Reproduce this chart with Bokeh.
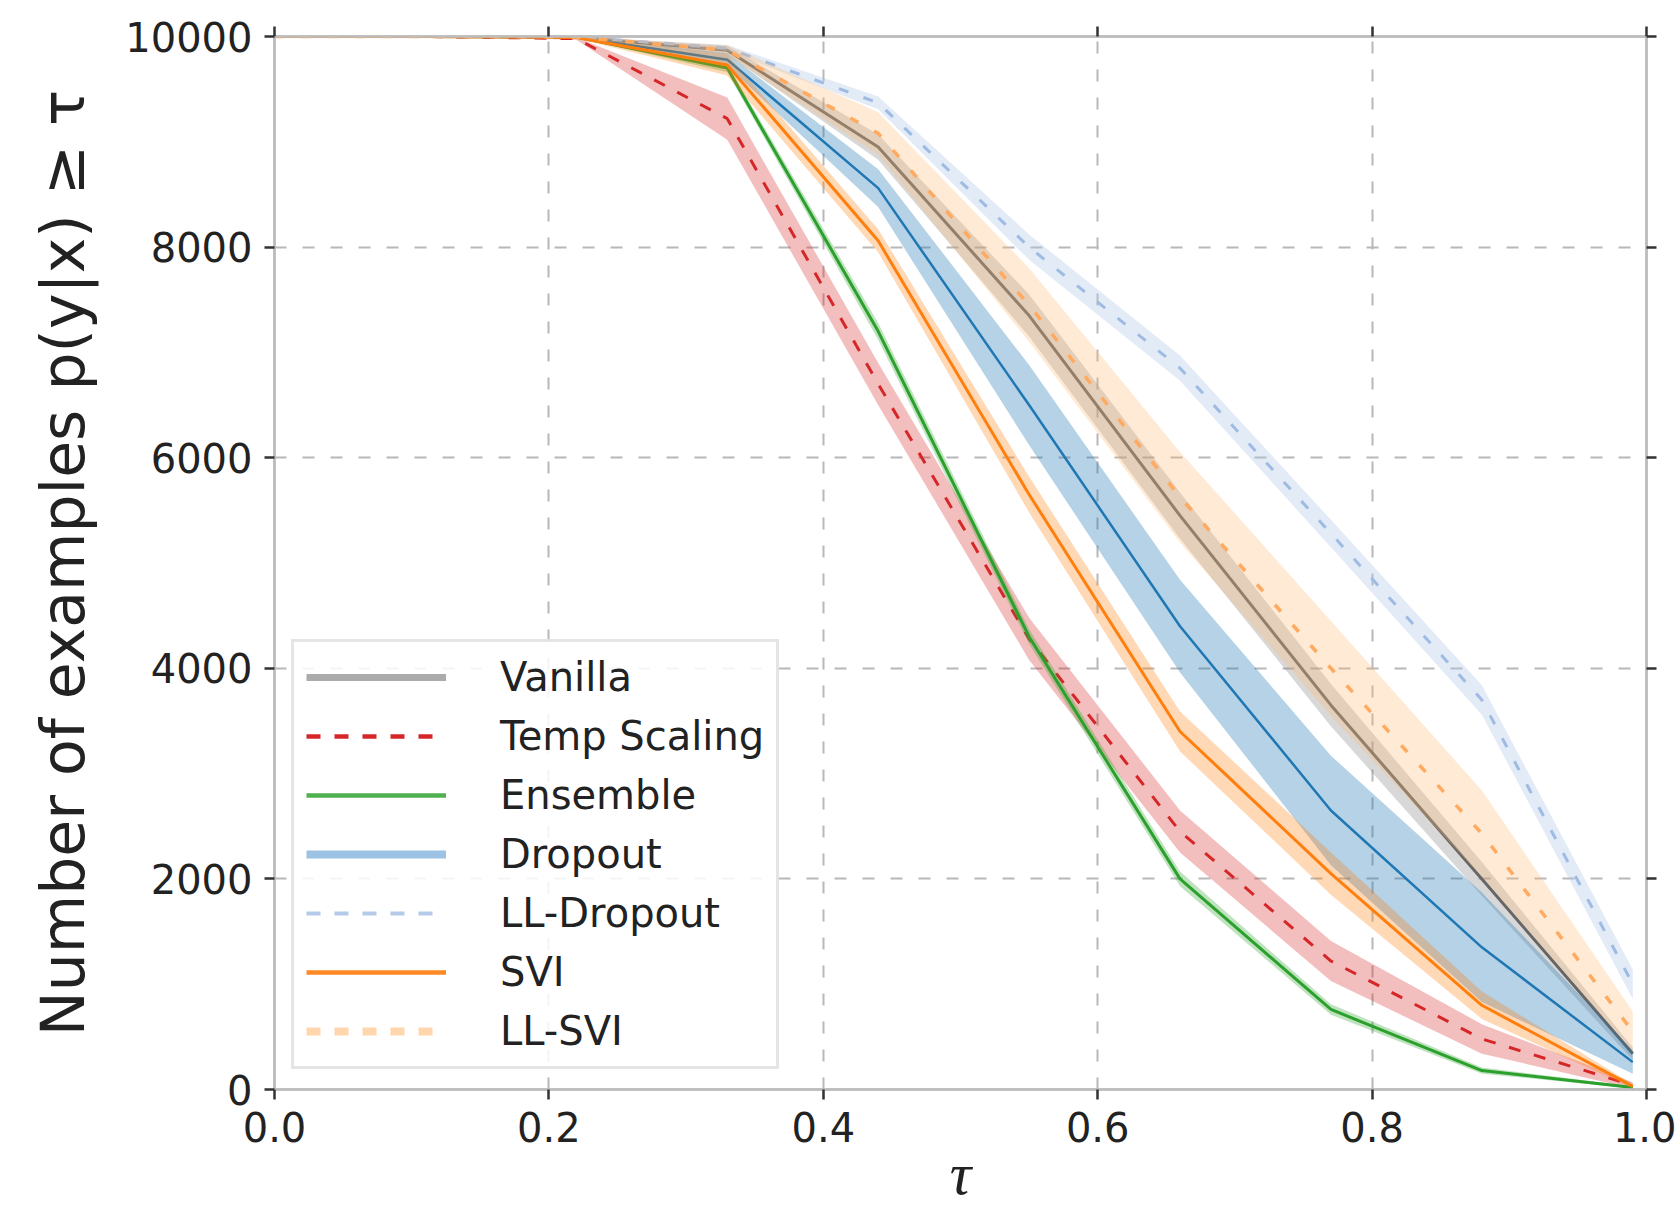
import math
from bokeh.plotting import figure
from bokeh.models import (Range1d, FixedTicker, LinearAxis, Legend, LegendItem,
                          CustomJSTickFormatter)
from bokeh.embed import file_html
from bokeh.resources import INLINE

# ---------------- data ----------------
tau = [0.0, 0.11, 0.22, 0.33, 0.44, 0.55, 0.66, 0.77, 0.88, 0.99]

methods = ["Vanilla", "Temp Scaling", "Ensemble", "Dropout", "LL-Dropout", "SVI", "LL-SVI"]

vanilla_mean = [10000, 10000, 9995, 9870, 8950, 7350, 5450, 3650, 2000, 340]
vanilla_std = [0, 0, 5, 40, 120, 200, 220, 200, 160, 60]

temp_mean = [10000, 10000, 9980, 9220, 6700, 4280, 2450, 1220, 480, 40]
temp_std = [0, 0, 10, 200, 200, 200, 200, 190, 140, 30]

ensemble_mean = [10000, 10000, 9995, 9700, 7200, 4300, 2000, 760, 180, 20]
ensemble_std = [0, 0, 5, 40, 80, 70, 70, 50, 30, 10]

dropout_mean = [10000, 10000, 9995, 9780, 8560, 6500, 4400, 2650, 1350, 260]
dropout_std = [0, 0, 5, 60, 180, 380, 440, 520, 520, 110]

lldropout_mean = [10000, 10000, 9998, 9890, 9370, 8000, 6850, 5280, 3700, 1000]
lldropout_std = [0, 0, 2, 30, 60, 120, 120, 130, 140, 140]

svi_mean = [10000, 10000, 9990, 9730, 8060, 5650, 3400, 2050, 800, 30]
svi_std = [0, 0, 10, 100, 110, 170, 190, 200, 130, 20]

llsvi_mean = [10000, 10000, 9995, 9870, 9080, 7450, 5625, 4000, 2430, 550]
llsvi_std = [0, 0, 5, 50, 200, 350, 430, 450, 410, 190]

x_ticks = [0.0, 0.2, 0.4, 0.6, 0.8, 1.0]
x_tick_labels = ["0.0", "0.2", "0.4", "0.6", "0.8", "1.0"]
y_ticks = [0, 2000, 4000, 6000, 8000, 10000]
y_tick_labels = ["0", "2000", "4000", "6000", "8000", "10000"]

y_label = "Number of examples p(y|x) ≥ τ"
x_label = "τ"

# ---------------- styles ----------------
series = [
    # mean, std, line color, dash, width, band color, band alpha
    (vanilla_mean, vanilla_std, "#666666", "solid", 3, "#7f7f7f", 0.30),
    (temp_mean, temp_std, "#d62728", "12 14", 3, "#d62728", 0.30),
    (ensemble_mean, ensemble_std, "#2ca02c", "solid", 3, "#2ca02c", 0.30),
    (dropout_mean, dropout_std, "#1f77b4", "solid", 2.5, "#1f77b4", 0.33),
    (lldropout_mean, lldropout_std, "#9dbbe3", "10 16", 3, "#aec7e8", 0.35),
    (svi_mean, svi_std, "#ff7f0e", "solid", 3, "#ff7f0e", 0.30),
    (llsvi_mean, llsvi_std, "#ffaa5e", "9 18", 3.5, "#ffbb78", 0.30),
]

legend_styles = [
    ("#ababab", "solid", 7),
    ("#d62728", "14 14", 4.5),
    ("#4fb04f", "solid", 4.5),
    ("#9cc3e4", "solid", 8),
    ("#b3cbe9", "14 14", 4),
    ("#ff8a25", "solid", 4.5),
    ("#ffd6ae", "14 14", 8),
]

FONT = "DejaVu Sans"
TEXT_COLOR = "#222222"

p = figure(width=1676, height=1210, output_backend="svg", toolbar_location=None,
           x_range=Range1d(0, 1), y_range=Range1d(0, 10000),
           min_border_left=274, min_border_right=30, min_border_top=36, min_border_bottom=121)

p.background_fill_color = "white"
p.border_fill_color = "white"
p.outline_line_color = "#bdbdbd"
p.outline_line_width = 2.5

bottom_axis = p.below[0]
left_axis = p.left[0]

# grid
for g, ticks in ((p.xgrid, x_ticks), (p.ygrid, y_ticks)):
    g.ticker = FixedTicker(ticks=ticks)
    g.grid_line_color = "#b8b8b8"
    g.grid_line_width = 2
    g.grid_line_dash = "12 16"

def style_axis(ax, ticks, labels=None, show_labels=True):
    ax.ticker = FixedTicker(ticks=ticks, minor_ticks=[])
    ax.axis_line_color = "#bdbdbd"
    ax.axis_line_width = 2.5
    ax.major_tick_out = 10
    ax.major_tick_in = 0
    ax.minor_tick_out = 0
    ax.minor_tick_in = 0
    ax.major_tick_line_color = "#333333"
    ax.major_tick_line_width = 2.5
    if show_labels:
        ax.major_label_overrides = {t: l for t, l in zip(ticks, labels)}
        ax.major_label_text_font = FONT
        ax.major_label_text_font_size = "40px"
        ax.major_label_text_color = TEXT_COLOR
        ax.major_label_standoff = 12
    else:
        ax.formatter = CustomJSTickFormatter(code="return ''")
        ax.major_label_text_font_size = "0px"
        ax.major_label_standoff = 0

style_axis(bottom_axis, x_ticks, x_tick_labels)
style_axis(left_axis, y_ticks, y_tick_labels)

top_axis = LinearAxis()
style_axis(top_axis, x_ticks, show_labels=False)
p.add_layout(top_axis, "above")
right_axis = LinearAxis()
style_axis(right_axis, y_ticks, show_labels=False)
p.add_layout(right_axis, "right")

# axis labels
left_axis.axis_label = y_label
left_axis.axis_label_text_font = FONT
left_axis.axis_label_text_font_style = "normal"
left_axis.axis_label_text_font_size = "60px"
left_axis.axis_label_text_color = TEXT_COLOR
left_axis.axis_label_standoff = 24

bottom_axis.axis_label = x_label
bottom_axis.axis_label_text_font = "Liberation Serif"
bottom_axis.axis_label_text_font_style = "italic"
bottom_axis.axis_label_text_font_size = "60px"
bottom_axis.axis_label_text_color = TEXT_COLOR
bottom_axis.axis_label_standoff = -4

# bands and lines
for mean, std, lc, dash, lw, bc, ba in series:
    lower = [m - s for m, s in zip(mean, std)]
    upper = [m + s for m, s in zip(mean, std)]
    p.varea(x=tau, y1=lower, y2=upper, fill_color=bc, fill_alpha=ba)
    p.line(x=tau, y=mean, line_color=lc, line_width=lw, line_dash=dash)

# legend (legend-only handles, nothing drawn in the plot)
nan = float("nan")
items = []
for name, (c, dash, w) in zip(methods, legend_styles):
    r = p.line(x=[nan], y=[nan], line_color=c, line_dash=dash, line_width=w)
    items.append(LegendItem(label=name, renderers=[r]))

legend = Legend(items=items, location=(17, 20), margin=0, padding=12,
                glyph_width=140, glyph_height=46, label_height=46, label_width=10,
                spacing=13, label_standoff=54,
                label_text_font=FONT, label_text_font_size="40px", label_text_color=TEXT_COLOR,
                border_line_color="#cccccc", border_line_width=3,
                background_fill_color="white", background_fill_alpha=0.85)
p.add_layout(legend, "center")

open("out.html", "w").write(file_html(p, INLINE))
